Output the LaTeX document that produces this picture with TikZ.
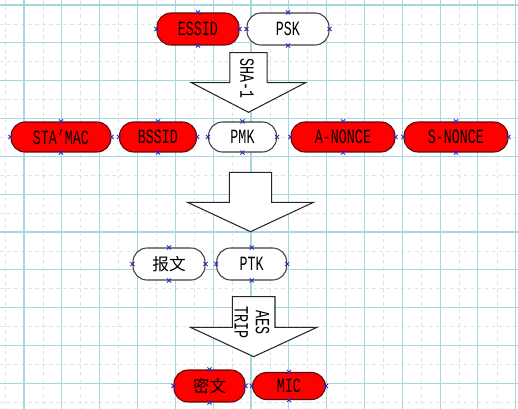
\documentclass[tikz,border=0pt]{standalone}
\usepackage{fontspec}
\usepackage{tikz}
\usetikzlibrary{positioning}
\newfontfamily\lblfont[FakeStretch=0.66]{Liberation Mono}
\newfontfamily\cjkfont{Noto Sans CJK SC}
\definecolor{keyRed}{HTML}{FF0000}
\definecolor{keyEdge}{HTML}{5A0A0A}
\definecolor{gridMajor}{HTML}{A6D6DE}
\definecolor{gridMinor}{HTML}{E2E2E2}
\definecolor{markBlue}{HTML}{2B2BB8}

\begin{document}
\begin{tikzpicture}[
    x=0.02cm, y=-0.02cm,
    keybox/.style={
        draw=keyEdge, fill=keyRed, rounded corners=0.28cm,
        line width=0.6pt, inner sep=0pt,
        font=\fontsize{11.5}{12}\lblfont, text=black,
        minimum height=0.64cm, text centered
    },
    plainbox/.style={
        keybox, draw=black!75, fill=white
    },
    cjk/.style={font=\fontsize{9.5}{10}\cjkfont},
    blockarrow/.style={draw=black!85, fill=white, line width=0.6pt},
    arrlbl/.style={
        font=\fontsize{11.5}{12}\lblfont, rotate=-90,
        align=center, inner sep=0pt
    },
    xmark/.style={draw=markBlue, line width=0.5pt},
]

%% =================================================================
%% Background grid
%% =================================================================
\useasboundingbox (0,0) rectangle (518,409);
\fill[white] (0,0) rectangle (518,409);
\foreach \k in {0,...,13} {
    \draw[gridMinor, dash pattern=on 2pt off 2pt, line width=0.4pt] ({24+37.83*\k-18.9},0) -- ({24+37.83*\k-18.9},409);
    \draw[gridMinor, dash pattern=on 2pt off 2pt, line width=0.4pt] (0,{5+37.83*\k+18.9}) -- (518,{5+37.83*\k+18.9});
}
\foreach \k in {0,...,13} {
    \draw[gridMajor, line width=0.6pt] ({24+37.83*\k},0) -- ({24+37.83*\k},409);
    \draw[gridMajor, line width=0.6pt] (0,{5+37.83*\k}) -- (518,{5+37.83*\k});
}

%% =================================================================
%% Row 1: inputs
%% =================================================================
\node[keybox, minimum width=1.64cm] (essid) at (198,29) {ESSID};
\node[plainbox, minimum width=1.64cm] (psk) at (288,29) {PSK};

%% SHA-1 block arrow
\draw[blockarrow] (229.8,52.7) -- (267.2,52.7) -- (267.2,82.7) -- (305.5,82.7)
    -- (248.5,112.3) -- (191.5,82.7) -- (229.8,82.7) -- cycle;
\node[arrlbl] (sha) at (247,79) {SHA-1};

%% =================================================================
%% Row 2: PMK and nonces
%% =================================================================
\node[keybox, minimum height=0.6cm, minimum width=2.0cm] (stamac) at (61,137) {STA’MAC};
\node[keybox, minimum height=0.6cm, minimum width=1.54cm] (bssid) at (158,137) {BSSID};
\node[plainbox, minimum height=0.6cm, minimum width=1.36cm] (pmk) at (242.5,137) {PMK};
\node[keybox, minimum height=0.6cm, minimum width=2.08cm] (anonce) at (343,137) {A-NONCE};
\node[keybox, minimum height=0.6cm, minimum width=2.08cm] (snonce) at (456,137) {S-NONCE};

%% plain block arrow
\draw[blockarrow] (229.3,172.3) -- (271.7,172.3) -- (271.7,202.3) -- (313.5,202.3)
    -- (250.5,231.7) -- (187.5,202.3) -- (229.3,202.3) -- cycle;

%% =================================================================
%% Row 3: message and PTK
%% =================================================================
\node[plainbox, cjk, minimum width=1.44cm] (msg) at (169,264) {报文};
\node[plainbox, minimum width=1.4cm] (ptk) at (251.7,264) {PTK};

%% AES / TRIP block arrow
\draw[blockarrow] (232.4,296.7) -- (275,296.7) -- (275,327.3) -- (317,327.3)
    -- (253.7,356.7) -- (190.4,327.3) -- (232.4,327.3) -- cycle;
\node[arrlbl] (aes) at (252,323) {AES\\TRIP};

%% =================================================================
%% Row 4: outputs
%% =================================================================
\node[keybox, cjk, minimum width=1.42cm] (cipher) at (209.5,386) {密文};
\node[keybox, minimum height=0.54cm, minimum width=1.46cm] (mic) at (289,386) {MIC};

%% connection points
\foreach \n in {essid,psk,stamac,bssid,pmk,anonce,snonce,msg,ptk,cipher,mic}
    \foreach \a in {north,south,east,west}
        \draw[xmark] (\n.\a) +(-2,-2) -- +(2,2) +(-2,2) -- +(2,-2);

\end{tikzpicture}
\end{document}
